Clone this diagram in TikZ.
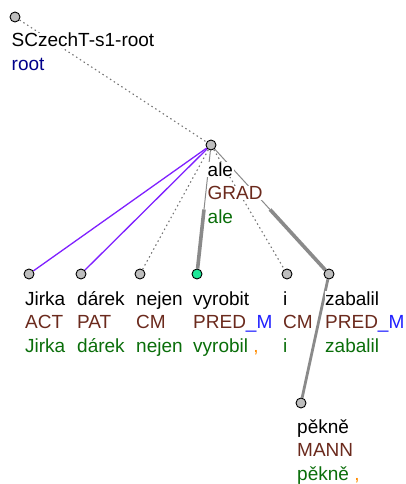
\documentclass[tikz,border=0pt]{standalone}
\usepackage{fontspec}
\setmainfont{Liberation Sans}
\usetikzlibrary{positioning,calc,backgrounds}
\definecolor{tFunc}{HTML}{6B2A1D}
\definecolor{tLemma}{HTML}{0A6E0A}
\definecolor{tRoot}{HTML}{00008B}
\definecolor{tSub}{HTML}{2020FF}
\definecolor{tComma}{HTML}{FF8C00}
\definecolor{tPurple}{HTML}{7F20FF}
\definecolor{tEdge}{HTML}{8A8A8A}
\definecolor{tNode}{HTML}{BEBEBE}
\definecolor{tPred}{HTML}{1EE898}
\tikzset{
  tnode/.style={circle, draw=black, line width=0.9pt, fill=tNode,
              minimum size=10pt, inner sep=0pt},
  txt/.style={fill=white, inner sep=0.5pt, anchor=base west,
              font=\fontsize{19}{22}\selectfont},
  word/.style={txt, text=black},
  func/.style={txt, text=tFunc},
  lemma/.style={txt, text=tLemma},
  plain/.style={draw=tEdge, line width=1pt},
  heavy/.style={draw=tEdge, line width=3.6pt},
  dep/.style={draw=tEdge, line width=2.8pt},
  aux/.style={draw=tEdge!85!black, line width=1.1pt, dash pattern=on 1.5pt off 3pt},
  shared/.style={draw=tPurple, line width=1.3pt},
}

\begin{document}
\begin{tikzpicture}[x=1pt,y=-1pt]
  \useasboundingbox (0,0) rectangle (405,484);
  % technical root
  \node[tnode] (root) at (15,17) {};
  \node[word] (root-w) at ([xshift=-4pt,yshift=-30pt]root.center) {SCzechT-s1-root};
  \node[txt,text=tRoot] (root-f) at ([yshift=-24pt]root-w.base west) {root};
  % coordination head
  \node[tnode] (ale) at (211,145) {};
  \node[word] (ale-w) at ([xshift=-4pt,yshift=-31.5pt]ale.center) {ale};
  \node[func] (ale-f) at ([yshift=-23.3pt]ale-w.base west) {GRAD};
  \node[lemma] (ale-l) at ([yshift=-23.3pt]ale-f.base west) {ale};
  % first level
  \foreach \nm/\x/\fil/\wrd/\fun/\lem in {
      jirka/29/tNode/Jirka/ACT/Jirka,
      darek/81/tNode/dárek/PAT/dárek,
      nejen/140/tNode/nejen/CM/nejen,
      vyrobit/197/tPred/vyrobit/{PRED\textcolor{tSub}{\_M}}/{vyrobil \textcolor{tComma}{,}},
      i/287/tNode/i/CM/i,
      zabalil/329/tNode/zabalil/{PRED\textcolor{tSub}{\_M}}/zabalil}{
    \node[tnode,fill=\fil] (\nm) at (\x,274) {};
    \node[word] (\nm-w) at ([xshift=-4.5pt,yshift=-31pt]\nm.center) {\wrd};
    \node[func] (\nm-f) at ([yshift=-23.5pt]\nm-w.base west) {\fun};
    \node[lemma] (\nm-l) at ([yshift=-23.5pt]\nm-f.base west) {\lem};
  }
  % dependent of zabalil
  \node[tnode] (pekne) at (301,403) {};
  \node[word] (pekne-w) at ([xshift=-4.5pt,yshift=-30.5pt]pekne.center) {pěkně};
  \node[func] (pekne-f) at ([yshift=-23.3pt]pekne-w.base west) {MANN};
  \node[lemma] (pekne-l) at ([yshift=-23.3pt]pekne-f.base west) {pěkně \textcolor{tComma}{,}};
  % edges
  \begin{scope}[on background layer]
    \draw[aux] (root) -- (ale);
    \draw[shared] (ale) -- (jirka);
    \draw[shared] (ale) -- (darek);
    \draw[aux] (ale) -- (nejen);
    \draw[aux] (ale) -- (i);
    \draw[plain] (ale) -- ($(ale.center)!.5!(vyrobit.center)$);
    \draw[heavy] ($(ale.center)!.5!(vyrobit.center)$) -- (vyrobit);
    \draw[plain] (ale) -- ($(ale.center)!.5!(zabalil.center)$);
    \draw[heavy] ($(ale.center)!.5!(zabalil.center)$) -- (zabalil);
    \draw[dep] (zabalil) -- (pekne);
  \end{scope}
\end{tikzpicture}
\end{document}
